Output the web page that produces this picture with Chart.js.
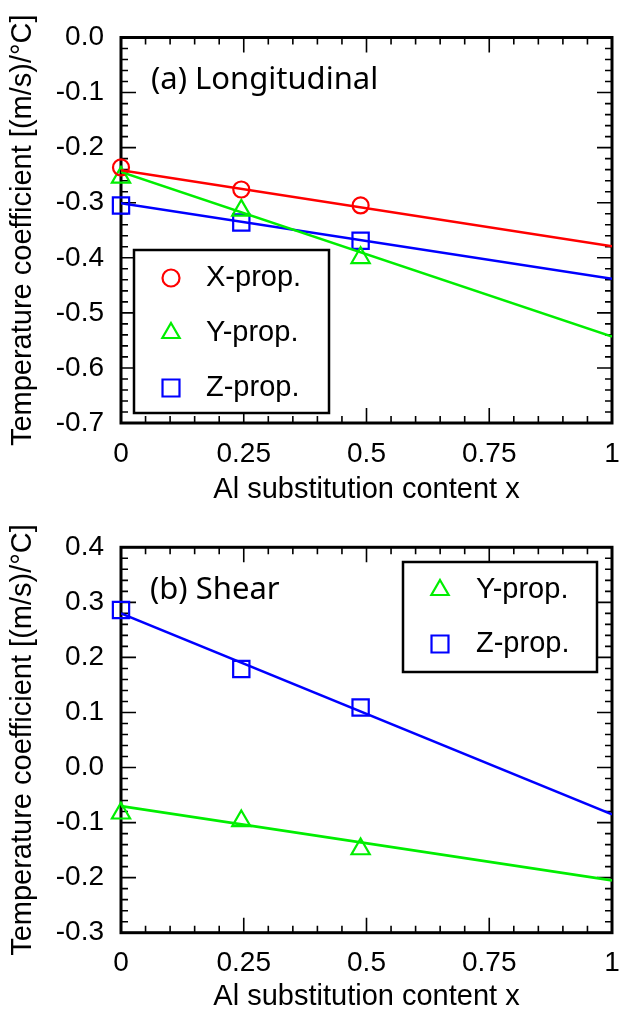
<!DOCTYPE html>
<html>
<head>
<meta charset="utf-8">
<script src="https://cdn.jsdelivr.net/npm/chart.js@4.4.1/dist/chart.umd.min.js"></script>
<style>
  html, body { margin: 0; padding: 0; background: #fff; }
  .panel { position: absolute; left: 0; width: 621px; height: 507px; }
</style>
</head>
<body>
<div class="panel" style="top:0"><canvas id="chartA"></canvas></div>
<div class="panel" style="top:507px"><canvas id="chartB"></canvas></div>
<script>
// measured points: Al content x
const xContent = [0, 0.245, 0.488];
// fitted lines are given by their ends at x = 0 and x = 1
const fitX = [0, 1];

// (a) Longitudinal
const longX = [-0.236, -0.276, -0.305];
const longY = [-0.254, -0.314, -0.400];
const longZ = [-0.305, -0.336, -0.369];
const longXFit = [-0.241, -0.379];
const longYFit = [-0.244, -0.543];
const longZFit = [-0.301, -0.438];

// (b) Shear
const shearY = [-0.083, -0.097, -0.148];
const shearZ = [0.286, 0.179, 0.109];
const shearYFit = [-0.070, -0.205];
const shearZFit = [0.280, -0.085];

const xTicks = [0, 0.25, 0.5, 0.75, 1];
const yRangeA = [-0.7, 0.0];
const yRangeB = [-0.3, 0.4];

const RED = '#ff0000';
const GREEN = '#00ee00';
const BLUE = '#0000ff';
const FONT = '"Liberation Sans", Arial, Helvetica, sans-serif';

function pts(xs, ys) {
  return xs.map((v, i) => ({x: v, y: ys[i]}));
}

function markers(label, ys, color, style, radius) {
  return {
    label: label,
    data: pts(xContent, ys),
    showLine: false,
    pointStyle: style,
    pointRadius: radius,
    pointHoverRadius: radius,
    pointBorderWidth: 2.2,
    pointBorderColor: color,
    pointBackgroundColor: 'rgba(0,0,0,0)',
    borderColor: color,
    clip: false
  };
}

function fitLine(ys, color) {
  return {
    data: pts(fitX, ys),
    showLine: true,
    borderColor: color,
    borderWidth: 2.6,
    pointRadius: 0,
    fill: false
  };
}

function shape(ctx, style, x, y, r) {
  ctx.beginPath();
  if (style === 'circle') {
    ctx.arc(x, y, r, 0, Math.PI * 2);
  } else if (style === 'triangle') {
    ctx.moveTo(x, y - r);
    ctx.lineTo(x + r * Math.sin(2 * Math.PI / 3), y + r / 2);
    ctx.lineTo(x - r * Math.sin(2 * Math.PI / 3), y + r / 2);
    ctx.closePath();
  } else {
    const h = r * Math.SQRT1_2;
    ctx.rect(x - h, y - h, 2 * h, 2 * h);
  }
  ctx.stroke();
}

// box frame with inward ticks on all four sides
const frameTicks = {
  id: 'frameTicks',
  beforeDatasetsDraw(chart) {
    const {ctx, chartArea: a, scales} = chart;
    const xs = scales.x, ys = scales.y;
    ctx.save();
    ctx.strokeStyle = '#000';
    ctx.lineWidth = 1.6;
    ctx.beginPath();
    let n = Math.round((xs.max - xs.min) / 0.05);
    for (let i = 0; i <= n; i++) {
      const px = xs.getPixelForValue(xs.min + i * 0.05);
      const len = i % 5 === 0 ? 15 : 7;
      ctx.moveTo(px, a.bottom); ctx.lineTo(px, a.bottom - len);
      ctx.moveTo(px, a.top); ctx.lineTo(px, a.top + len);
    }
    n = Math.round((ys.max - ys.min) / 0.02);
    for (let i = 0; i <= n; i++) {
      const py = ys.getPixelForValue(ys.min + i * 0.02);
      const len = i % 5 === 0 ? 15 : 7;
      ctx.moveTo(a.left, py); ctx.lineTo(a.left + len, py);
      ctx.moveTo(a.right, py); ctx.lineTo(a.right - len, py);
    }
    ctx.stroke();
    ctx.lineWidth = 3;
    ctx.strokeRect(a.left, a.top, a.right - a.left, a.bottom - a.top);
    ctx.restore();
  }
};

// panel label and boxed legend
const decor = {
  id: 'decor',
  afterDatasetsDraw(chart) {
    const o = chart.options.plugins.decor;
    const ctx = chart.ctx;
    ctx.save();
    ctx.fillStyle = '#000';
    ctx.textBaseline = 'alphabetic';
    ctx.font = '31px "Noto Sans", sans-serif';
    ctx.fillText(o.label, o.labelX, o.labelY);

    const b = o.box;
    ctx.fillStyle = '#fff';
    ctx.fillRect(b[0], b[1], b[2] - b[0], b[3] - b[1]);
    ctx.strokeStyle = '#000';
    ctx.lineWidth = 2.5;
    ctx.strokeRect(b[0], b[1], b[2] - b[0], b[3] - b[1]);

    ctx.font = '29px ' + FONT;
    ctx.lineWidth = 2.2;
    o.items.forEach((it, i) => {
      const y = o.firstY + i * o.step;
      ctx.strokeStyle = it.color;
      shape(ctx, it.style, o.symX, y, it.r);
      ctx.fillStyle = '#000';
      ctx.fillText(it.text, o.textX, y + 8);
    });
    ctx.restore();
  }
};

function makeChart(id, datasets, yRange, padTop, xHeight, decorOpts) {
  return new Chart(document.getElementById(id), {
    type: 'scatter',
    data: {datasets: datasets},
    plugins: [frameTicks, decor],
    options: {
      responsive: true,
      maintainAspectRatio: false,
      animation: false,
      layout: {
        autoPadding: false,
        padding: {top: padTop, right: 9, left: 0, bottom: 0}
      },
      plugins: {
        legend: {display: false},
        tooltip: {enabled: false},
        decor: decorOpts
      },
      scales: {
        x: {
          type: 'linear',
          min: 0,
          max: 1,
          afterFit(scale) {
            scale.height = xHeight;
            scale.paddingLeft = 0;
            scale.paddingRight = 0;
          },
          afterBuildTicks(scale) { scale.ticks = xTicks.map(v => ({value: v})); },
          grid: {display: false, drawTicks: false},
          border: {display: false},
          ticks: {
            color: '#000',
            padding: 14,
            maxRotation: 0,
            font: {family: FONT, size: 28},
            callback: v => String(v)
          },
          title: {
            display: true,
            text: 'Al substitution content x',
            color: '#000',
            padding: {top: 0, bottom: 0},
            font: {family: FONT, size: 29}
          }
        },
        y: {
          type: 'linear',
          min: yRange[0],
          max: yRange[1],
          afterFit(scale) {
            scale.width = 121;
            scale.paddingTop = 0;
            scale.paddingBottom = 0;
          },
          grid: {display: false, drawTicks: false},
          border: {display: false},
          ticks: {
            color: '#000',
            padding: 17,
            stepSize: 0.1,
            font: {family: FONT, size: 28},
            callback: v => (Math.abs(v) < 1e-9 ? 0 : v).toFixed(1)
          },
          title: {
            display: true,
            text: 'Temperature coefficient [(m/s)/°C]',
            color: '#000',
            padding: {top: 6, bottom: 0},
            font: {family: FONT, size: 29}
          }
        }
      }
    }
  });
}

makeChart('chartA', [
  fitLine(longXFit, RED),
  fitLine(longYFit, GREEN),
  fitLine(longZFit, BLUE),
  markers('X-prop.', longX, RED, 'circle', 8),
  markers('Y-prop.', longY, GREEN, 'triangle', 10.5),
  markers('Z-prop.', longZ, BLUE, 'rect', 11.5)
], yRangeA, 37.5, 84, {
  label: '(a) Longitudinal', labelX: 151, labelY: 89,
  box: [134, 250, 329, 413],
  symX: 171, textX: 206, firstY: 278, step: 55,
  items: [
    {text: 'X-prop.', color: RED, style: 'circle', r: 8.5},
    {text: 'Y-prop.', color: GREEN, style: 'triangle', r: 10},
    {text: 'Z-prop.', color: BLUE, style: 'rect', r: 12}
  ]
});

makeChart('chartB', [
  fitLine(shearYFit, GREEN),
  fitLine(shearZFit, BLUE),
  markers('Y-prop.', shearY, GREEN, 'triangle', 10.5),
  markers('Z-prop.', shearZ, BLUE, 'rect', 11.5)
], yRangeB, 40.3, 81.3, {
  label: '(b) Shear', labelX: 150, labelY: 92,
  box: [403, 55, 597, 165],
  symX: 440, textX: 476, firstY: 83, step: 54,
  items: [
    {text: 'Y-prop.', color: GREEN, style: 'triangle', r: 10},
    {text: 'Z-prop.', color: BLUE, style: 'rect', r: 12}
  ]
});
</script>
</body>
</html>
